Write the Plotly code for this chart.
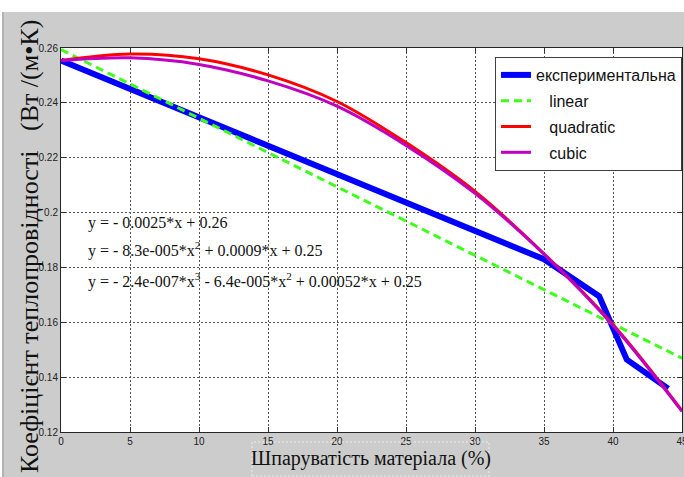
import plotly.graph_objects as go

# ---- data ----
exp_x = [0, 35, 39, 41, 44]
exp_y = [0.2554, 0.1830, 0.1695, 0.1464, 0.1358]

lin_x = [0, 45]
lin_y = [0.2594, 0.1469]

fit_x = [0, 5, 10, 15, 20, 25, 30, 35, 40, 45]
quad_y = [0.2554, 0.2578, 0.2561, 0.2502, 0.2405, 0.2255, 0.2077, 0.1850, 0.1592, 0.1278]
cub_y = [0.2554, 0.2564, 0.2540, 0.2480, 0.2388, 0.2245, 0.2070, 0.1848, 0.1588, 0.1275]

x_ticks = [0, 5, 10, 15, 20, 25, 30, 35, 40, 45]
y_ticks = [0.12, 0.14, 0.16, 0.18, 0.2, 0.22, 0.24, 0.26]
y_ticktext = ["0.12", "0.14", "0.16", "0.18", "0.2", "0.22", "0.24", "0.26"]

names = ["експериментальна", "\u00a0\u00a0\u00a0linear", "\u00a0\u00a0\u00a0quadratic", "\u00a0\u00a0\u00a0cubic"]
equations = [
    "y = - 0.0025*x + 0.26",
    "y = - 8.3e-005*x<sup>2</sup> + 0.0009*x + 0.25",
    "y = - 2.4e-007*x<sup>3</sup> - 6.4e-005*x<sup>2</sup> + 0.00052*x + 0.25",
]
eq_pos_x = [1.8, 1.8, 1.8]
eq_pos_y = [0.1962, 0.1864, 0.1754]

x_title = "Шпаруватість матеріала (%)"
y_title = "Коефіцієнт теплопровідності\u00a0\u00a0\u00a0(Вт /(м•К)"

W, H = 684, 477
L, R, T, B = 61, 2, 48, 45
pw, ph = W - L - R, H - T - B

fig = go.Figure()
fig.add_trace(go.Scatter(x=exp_x, y=exp_y, mode="lines", name=names[0], legendgroup="a",
                         line=dict(color="#0000FF", width=6)))
fig.add_trace(go.Scatter(x=lin_x, y=lin_y, mode="lines", name=names[1], legendgroup="b",
                         line=dict(color="#3DFF1A", width=3, dash="8px,5px")))
fig.add_trace(go.Scatter(x=fit_x, y=quad_y, mode="lines", name=names[2], legendgroup="c",
                         line=dict(color="#FF0000", width=3, shape="spline")))
fig.add_trace(go.Scatter(x=fit_x, y=cub_y, mode="lines", name=names[3], legendgroup="d",
                         line=dict(color="#BF00BF", width=3, shape="spline")))

tickfont = dict(family="Liberation Sans Narrow, Arial Narrow, Liberation Sans", size=10, color="#222")
fig.update_xaxes(range=[0, 45], tickvals=x_ticks, ticks="inside", ticklen=5, tickcolor="#333",
                 showline=True, linecolor="#262626", linewidth=1, mirror="ticks",
                 showgrid=True, gridcolor="#555", griddash="2px,2px", gridwidth=1,
                 zeroline=False, tickfont=tickfont, ticklabeloverflow="allow")
fig.update_yaxes(range=[0.12, 0.26], tickvals=y_ticks, ticktext=y_ticktext, ticks="inside", ticklen=5,
                 tickcolor="#333", showline=True, linecolor="#262626", linewidth=1, mirror="ticks",
                 showgrid=True, gridcolor="#555", griddash="2px,2px", gridwidth=1,
                 zeroline=False, tickfont=tickfont, ticklabeloverflow="allow")

annotations = []
for t, ex, ey in zip(equations, eq_pos_x, eq_pos_y):
    annotations.append(dict(x=ex, y=ey, xref="x", yref="y", text=t, showarrow=False,
                            xanchor="left", yanchor="middle",
                            font=dict(family="Liberation Serif", size=16, color="#111")))
annotations.append(dict(x=(371 - L) / pw, y=-(458 - (T + ph)) / ph, xref="paper", yref="paper",
                        text=x_title, showarrow=False, xanchor="center", yanchor="middle",
                        font=dict(family="Liberation Serif", size=20, color="#111")))
annotations.append(dict(x=(29 - L) / pw, y=((T + ph) - 247) / ph, xref="paper", yref="paper",
                        text=y_title, showarrow=False, textangle=-90, xanchor="center", yanchor="middle",
                        font=dict(family="Liberation Serif", size=26, color="#111")))

def px_x(p):
    return (p - L) / pw

def px_y(p):
    return ((T + ph) - p) / ph

shapes = [
    dict(type="rect", xref="paper", yref="paper", x0=px_x(0), x1=px_x(W), y0=px_y(12), y1=px_y(0),
         fillcolor="white", line=dict(width=0), layer="below"),
    dict(type="rect", xref="paper", yref="paper", x0=px_x(0), x1=px_x(2), y0=px_y(H), y1=px_y(12),
         fillcolor="white", line=dict(width=0), layer="below"),
    dict(type="line", xref="paper", yref="paper", x0=px_x(3), x1=px_x(3), y0=px_y(H), y1=px_y(12),
         line=dict(color="#9a9a9a", width=1), layer="below"),
    dict(type="rect", xref="paper", yref="paper", x0=px_x(252), x1=px_x(489), y0=px_y(476), y1=px_y(442),
         line=dict(color="#ececec", width=1, dash="2px,2px"), fillcolor="rgba(0,0,0,0)", layer="above"),
]

fig.update_layout(
    width=W, height=H, margin=dict(l=L, r=R, t=T, b=B, autoexpand=False),
    paper_bgcolor="#CCCCCC", plot_bgcolor="white",
    showlegend=True,
    legend=dict(x=1, xanchor="right", y=px_y(57), yanchor="top", bgcolor="white",
                bordercolor="#404040", borderwidth=1, tracegroupgap=2, itemwidth=30,
                font=dict(family="Liberation Sans", size=16, color="#111")),
    annotations=annotations, shapes=shapes,
)

fig.write_html("out.html")
